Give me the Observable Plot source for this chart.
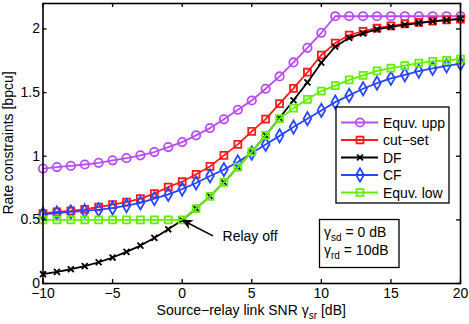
<!DOCTYPE html>
<html><head><meta charset="utf-8">
<script src="https://cdn.jsdelivr.net/npm/d3@7"></script>
<script src="https://cdn.jsdelivr.net/npm/@observablehq/plot@0.6"></script>
<style>
html,body{margin:0;padding:0;background:#fff;}
#chart{width:469px;height:324px;}
svg{font-family:"Liberation Sans",Arial,Helvetica,sans-serif;}
</style></head><body><div id="chart"></div>
<script>
// ---- data ----
const snr = [-10,-9,-8,-7,-6,-5,-4,-3,-2,-1,0,1,2,3,4,5,6,7,8,9,10,11,12,13,14,15,16,17,18,19,20];
const equvUpp = [0.903,0.915,0.924,0.935,0.948,0.968,0.985,1.007,1.033,1.072,1.111,1.164,1.221,1.290,1.365,1.438,1.530,1.627,1.737,1.852,1.970,2.100,2.100,2.100,2.100,2.100,2.100,2.100,2.100,2.100,2.100];
const cutSet = [0.550,0.562,0.570,0.583,0.601,0.620,0.640,0.667,0.706,0.758,0.800,0.858,0.920,1.007,1.093,1.195,1.292,1.413,1.533,1.660,1.795,1.889,1.952,1.982,2.006,2.024,2.040,2.052,2.061,2.071,2.077];
const df = [0.073,0.091,0.112,0.136,0.167,0.204,0.248,0.298,0.358,0.426,0.497,0.589,0.685,0.795,0.915,1.035,1.164,1.300,1.440,1.580,1.735,1.860,1.930,1.965,1.996,2.017,2.033,2.046,2.059,2.069,2.080];
const cf = [0.544,0.554,0.562,0.570,0.580,0.593,0.612,0.633,0.667,0.700,0.742,0.790,0.845,0.895,0.955,1.025,1.093,1.160,1.229,1.295,1.360,1.425,1.478,1.530,1.575,1.612,1.640,1.669,1.690,1.710,1.727];
const equvLow = [0.500,0.500,0.500,0.500,0.500,0.500,0.500,0.500,0.500,0.500,0.500,0.589,0.685,0.795,0.915,1.035,1.164,1.295,1.378,1.447,1.512,1.555,1.600,1.636,1.671,1.692,1.712,1.732,1.745,1.753,1.764];
const seriesNames = ["Equv. upp","cut\u2212set","DF","CF","Equv. low"];
const seriesValues = [equvUpp, cutSet, df, cf, equvLow];
const xTicks = [-10,-5,0,5,10,15,20];
const yTicks = [0,0.5,1,1.5,2];
const xLabel = ["Source\u2212relay link SNR \u03b3", "sr", " [dB]"];
const yLabel = "Rate constraints [bpcu]";
const noteLines = [["\u03b3","sd"," = 0 dB"],["\u03b3","rd"," = 10dB"]];
const relayOff = [{label:"Relay off", x:2.9, y:0.372, tailX:2.25, tailY:0.37, tipX:0.0, tipY:0.497}];

// ---- styles ----
const styles = {
  "Equv. upp": {color:"#b94cf7", symbol:"circle", r:4.2},
  "cut\u2212set": {color:"#ff1a1a", symbol:"square", r:3.9},
  "DF": {color:"#000000", symbol:"times", r:2.8},
  "CF": {color:"#2646ff", symbol:"diamond", r:4},
  "Equv. low": {color:"#62f000", symbol:"square", r:3.9}
};
const W=469, H=324, mL=42.5, mR=9, mT=3, mB=41;
const pW = W-mL-mR, pH = H-mT-mB;
const FONT = "14px";

const rows = seriesNames.flatMap((name,i)=> snr.map((x,j)=>({name, x, y: seriesValues[i][j]})));
const fmt = d => d < 0 ? "\u2212" + Math.abs(d) : String(d);

const marks = [];
for (const name of seriesNames) {
  const s = styles[name];
  const data = rows.filter(d => d.name === name);
  marks.push(Plot.line(data, {x:"x", y:"y", stroke:s.color, strokeWidth:1.8}));
  marks.push(Plot.dot(data, {x:"x", y:"y", stroke:s.color, fill:"none", symbol:s.symbol, r:s.r, strokeWidth:1.8}));
}

const plot = Plot.plot({
  width: W, height: H,
  marginLeft: mL, marginRight: mR, marginTop: mT, marginBottom: mB,
  style: {fontFamily:'"Liberation Sans",Arial,sans-serif', fontSize: FONT, color:"black", background:"white"},
  x: {domain:[-10,20], axis:null},
  y: {domain:[0,2.2], axis:null},
  marks: [
    ...marks,
    Plot.text(relayOff, {x:"x", y:"y", text:"label", textAnchor:"start", lineAnchor:"middle", fontSize:14, fill:"black"}),
    Plot.tickX(xTicks, {x:d=>d, insetTop:pH-4, stroke:"black", strokeWidth:1.3}),
    Plot.tickX(xTicks, {x:d=>d, insetBottom:pH-4, stroke:"black", strokeWidth:1.3}),
    Plot.tickY(yTicks, {y:d=>d, insetRight:pW-4, stroke:"black", strokeWidth:1.3}),
    Plot.tickY(yTicks, {y:d=>d, insetLeft:pW-4, stroke:"black", strokeWidth:1.3}),
    Plot.axisX({ticks:xTicks, tickSize:0, tickPadding:5, tickFormat:fmt, label:null, fontSize:14}),
    Plot.axisY({ticks:yTicks, tickSize:0, tickPadding:3, tickFormat:fmt, label:null, fontSize:14}),
    Plot.frame({stroke:"black", strokeWidth:1.6})
  ]
});
document.getElementById("chart").appendChild(plot);

const svg = d3.select(plot);
const sx = plot.scale("x"), sy = plot.scale("y");

// arrow
for (const a of relayOff) {
  const tx = sx.apply(a.tipX), ty = sy.apply(a.tipY);
  const bx = sx.apply(a.tailX), by = sy.apply(a.tailY);
  const L = Math.hypot(bx-tx, by-ty), ux = (tx-bx)/L, uy = (ty-by)/L;
  const nx = -uy, ny = ux, hl = 11, hw = 5;
  svg.append("line").attr("x1",bx).attr("y1",by).attr("x2",tx-ux*6).attr("y2",ty-uy*6)
    .attr("stroke","black").attr("stroke-width",1.6);
  const p = [[tx,ty],[tx-ux*hl+nx*hw, ty-uy*hl+ny*hw],[tx-ux*hl*0.7, ty-uy*hl*0.7],[tx-ux*hl-nx*hw, ty-uy*hl-ny*hw]];
  svg.append("path").attr("d","M"+p.map(q=>q.join(",")).join("L")+"Z").attr("fill","black");
}

// axis titles
const xt = svg.append("text").attr("x", mL+pW/2).attr("y", 315).attr("text-anchor","middle").attr("font-size",FONT);
xt.append("tspan").text(xLabel[0]);
xt.append("tspan").attr("dy",4).attr("font-size","10px").text(xLabel[1]);
xt.append("tspan").attr("dy",-4).text(xLabel[2]);
svg.append("text").attr("transform",`translate(13,${mT+pH/2}) rotate(-90)`).attr("text-anchor","middle")
  .attr("font-size",FONT).text(yLabel);

// legend
const lg = svg.append("g").attr("text-anchor","start");
lg.append("rect").attr("x",336).attr("y",107).attr("width",113).attr("height",96)
  .attr("fill","white").attr("stroke","black").attr("stroke-width",1.3);
const symMap = {circle:d3.symbolCircle, square:d3.symbolSquare, times:d3.symbolTimes, diamond:d3.symbolDiamond};
seriesNames.forEach((name,i)=>{
  const s = styles[name], y = 122.5 + i*17.5;
  lg.append("line").attr("x1",341).attr("x2",378).attr("y1",y).attr("y2",y).attr("stroke",s.color).attr("stroke-width",1.8);
  lg.append("path").attr("transform",`translate(360,${y})`)
    .attr("d", d3.symbol(symMap[s.symbol], Math.PI*s.r*s.r)()).attr("fill","none").attr("stroke",s.color).attr("stroke-width",1.8);
  lg.append("text").attr("x",383).attr("y",y+5).attr("text-anchor","start").attr("font-size",FONT).text(name);
});

// note box
const nb = svg.append("g").attr("text-anchor","start");
nb.append("rect").attr("x",319.5).attr("y",219.5).attr("width",79.5).attr("height",48)
  .attr("fill","white").attr("stroke","black").attr("stroke-width",1.3);
noteLines.forEach((ln,i)=>{
  const t = nb.append("text").attr("x",324).attr("y",236.5 + i*18.5).attr("text-anchor","start").attr("font-size",FONT);
  t.append("tspan").text(ln[0]);
  t.append("tspan").attr("dy",4).attr("font-size","10px").text(ln[1]);
  t.append("tspan").attr("dy",-4).text(ln[2]);
});
</script></body></html>
